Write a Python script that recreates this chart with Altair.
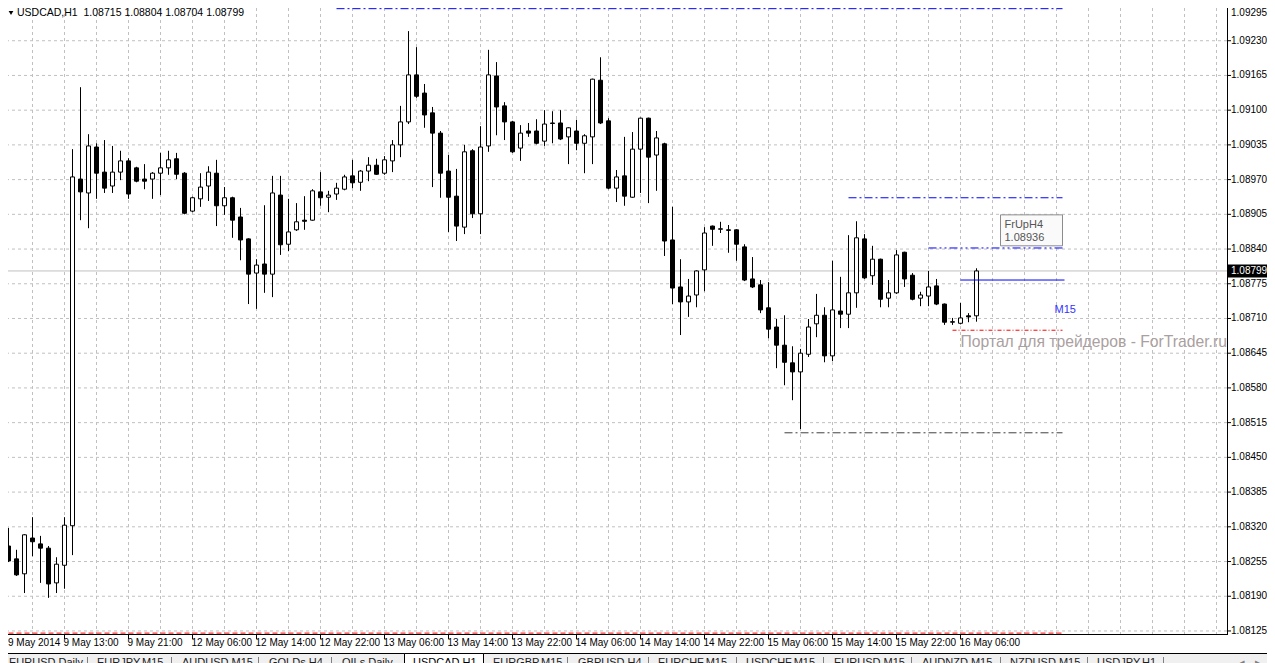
import altair as alt
import pandas as pd

FONT = "Liberation Sans"
symbol = "USDCAD,H1"

# ---- hourly OHLC bars (bar 0 = 9 May 2014 05:00, one bar per hour) ----
opens = [1.08295, 1.08284, 1.08260, 1.08232, 1.08299, 1.08288, 1.08280, 1.08215, 1.08248, 1.08322,
         1.08971, 1.08945, 1.09031, 1.08984, 1.08958, 1.08984, 1.09005, 1.08992, 1.08971, 1.08971,
         1.08982, 1.08992, 1.09009, 1.08982, 1.08911, 1.08934, 1.08958, 1.08982, 1.08921, 1.08936,
         1.08900, 1.08859, 1.08795, 1.08812, 1.08793, 1.08941, 1.08849, 1.08876, 1.08894, 1.08894,
         1.08947, 1.08937, 1.08943, 1.08952, 1.08977, 1.08965, 1.08986, 1.08997, 1.08982, 1.09005,
         1.09035, 1.09078, 1.09166, 1.09132, 1.09095, 1.09057, 1.08986, 1.08939, 1.08881, 1.09024,
         1.08906, 1.09033, 1.09164, 1.09108, 1.09078, 1.09029, 1.09061, 1.09061, 1.09042, 1.09076,
         1.09076, 1.09050, 1.09061, 1.09038, 1.09050, 1.09156, 1.09080, 1.08954, 1.08977, 1.08937,
         1.09027, 1.09085, 1.09016, 1.09037, 1.08857, 1.08769, 1.08741, 1.08754, 1.08801, 1.08883,
         1.08877, 1.08876, 1.08876, 1.08844, 1.08784, 1.08773, 1.08730, 1.08694, 1.08660, 1.08627,
         1.08610, 1.08643, 1.08700, 1.08716, 1.08640, 1.08724, 1.08718, 1.08758, 1.08859, 1.08790,
         1.08821, 1.08748, 1.08758, 1.08834, 1.08791, 1.08748, 1.08752, 1.08771, 1.08737, 1.08703,
         1.08701, 1.08715, 1.08715]
highs = [1.08305, 1.08318, 1.08277, 1.08306, 1.08338, 1.08303, 1.08284, 1.08263, 1.08338, 1.09027,
         1.09143, 1.09055, 1.09038, 1.09044, 1.09033, 1.09024, 1.09010, 1.08994, 1.08999, 1.08984,
         1.09020, 1.09024, 1.09020, 1.08984, 1.08938, 1.08982, 1.08995, 1.09007, 1.08956, 1.08938,
         1.08917, 1.08860, 1.08821, 1.08922, 1.08977, 1.08977, 1.08934, 1.08926, 1.08939, 1.08952,
         1.08984, 1.08949, 1.08964, 1.08979, 1.09007, 1.08988, 1.09012, 1.09009, 1.09014, 1.09044,
         1.09108, 1.09248, 1.09218, 1.09149, 1.09106, 1.09061, 1.09016, 1.08990, 1.09035, 1.09027,
         1.09070, 1.09213, 1.09190, 1.09115, 1.09080, 1.09072, 1.09076, 1.09083, 1.09100, 1.09098,
         1.09100, 1.09068, 1.09082, 1.09055, 1.09159, 1.09199, 1.09085, 1.08988, 1.09050, 1.09059,
         1.09086, 1.09086, 1.09061, 1.09039, 1.08919, 1.08821, 1.08784, 1.08800, 1.08881, 1.08884,
         1.08891, 1.08885, 1.08877, 1.08849, 1.08825, 1.08782, 1.08778, 1.08709, 1.08716, 1.08658,
         1.08653, 1.08709, 1.08756, 1.08731, 1.08818, 1.08788, 1.08866, 1.08892, 1.08868, 1.08846,
         1.08822, 1.08782, 1.08838, 1.08835, 1.08795, 1.08760, 1.08799, 1.08784, 1.08738, 1.08711,
         1.08739, 1.08720, 1.08804]
lows = [1.08267, 1.08254, 1.08228, 1.08196, 1.08265, 1.08215, 1.08187, 1.08196, 1.08204, 1.08267,
        1.08894, 1.08879, 1.08934, 1.08945, 1.08945, 1.08969, 1.08934, 1.08965, 1.08952, 1.08934,
        1.08941, 1.08979, 1.08971, 1.08905, 1.08909, 1.08919, 1.08930, 1.08883, 1.08904, 1.08861,
        1.08819, 1.08737, 1.08728, 1.08758, 1.08750, 1.08829, 1.08836, 1.08874, 1.08876, 1.08893,
        1.08921, 1.08909, 1.08932, 1.08950, 1.08954, 1.08949, 1.08967, 1.08979, 1.08979, 1.08984,
        1.09012, 1.09074, 1.09123, 1.09067, 1.08956, 1.08936, 1.08872, 1.08855, 1.08868, 1.08898,
        1.08868, 1.09022, 1.09053, 1.09044, 1.09020, 1.09005, 1.09050, 1.09036, 1.09033, 1.09038,
        1.09044, 1.08999, 1.09025, 1.08982, 1.08999, 1.09074, 1.08952, 1.08928, 1.08921, 1.08936,
        1.08945, 1.08926, 1.08949, 1.08827, 1.08737, 1.08679, 1.08713, 1.08731, 1.08761, 1.08846,
        1.08870, 1.08833, 1.08818, 1.08780, 1.08767, 1.08720, 1.08673, 1.08617, 1.08585, 1.08557,
        1.08503, 1.08638, 1.08675, 1.08628, 1.08630, 1.08692, 1.08692, 1.08730, 1.08784, 1.08773,
        1.08731, 1.08731, 1.08756, 1.08769, 1.08744, 1.08733, 1.08733, 1.08735, 1.08698, 1.08698,
        1.08699, 1.08703, 1.08704]
closes = [1.08280, 1.08256, 1.08230, 1.08305, 1.08292, 1.08280, 1.08213, 1.08250, 1.08323, 1.08975,
          1.08947, 1.09033, 1.08982, 1.08954, 1.08984, 1.09005, 1.08943, 1.08967, 1.08967, 1.08982,
          1.08992, 1.09007, 1.08980, 1.08907, 1.08936, 1.08956, 1.08984, 1.08921, 1.08936, 1.08894,
          1.08857, 1.08793, 1.08810, 1.08793, 1.08945, 1.08848, 1.08872, 1.08891, 1.08892, 1.08949,
          1.08936, 1.08941, 1.08954, 1.08975, 1.08964, 1.08986, 1.08997, 1.08980, 1.09007, 1.09035,
          1.09078, 1.09166, 1.09126, 1.09091, 1.09057, 1.08982, 1.08937, 1.08883, 1.09022, 1.08906,
          1.09031, 1.09166, 1.09106, 1.09078, 1.09022, 1.09057, 1.09057, 1.09038, 1.09074, 1.09075,
          1.09046, 1.09067, 1.09038, 1.09052, 1.09158, 1.09076, 1.08954, 1.08975, 1.08939, 1.09027,
          1.09085, 1.09012, 1.09048, 1.08855, 1.08767, 1.08741, 1.08752, 1.08799, 1.08870, 1.08877,
          1.08878, 1.08875, 1.08849, 1.08782, 1.08769, 1.08726, 1.08690, 1.08660, 1.08628, 1.08610,
          1.08645, 1.08694, 1.08716, 1.08640, 1.08726, 1.08718, 1.08758, 1.08861, 1.08786, 1.08821,
          1.08746, 1.08758, 1.08829, 1.08784, 1.08746, 1.08754, 1.08769, 1.08737, 1.08703, 1.08704,
          1.08711, 1.08713, 1.08799]

# time axis (bar index -> label)
first_label = "9 May 2014"
time_idx = [8, 16, 24, 32, 40, 48, 56, 64, 72, 80, 88, 96, 104, 112, 120]
time_labels = ["9 May 13:00", "9 May 21:00", "12 May 06:00", "12 May 14:00", "12 May 22:00",
               "13 May 06:00", "13 May 14:00", "13 May 22:00", "14 May 06:00", "14 May 14:00",
               "14 May 22:00", "15 May 06:00", "15 May 14:00", "15 May 22:00", "16 May 06:00"]

price_ticks = [1.08125, 1.08190, 1.08255, 1.08320, 1.08385, 1.08450, 1.08515, 1.08580, 1.08645,
               1.08710, 1.08775, 1.08840, 1.08905, 1.08970, 1.09035, 1.09100, 1.09165, 1.09230,
               1.09295]

# indicator levels: price, first bar, last bar
level_prices = [1.09290, 1.08936, 1.08842, 1.08782, 1.08688, 1.08496, 1.08121]
level_start = [42, 106, 116, 120, 119, 98, 0]
level_end = [132.75, 132.75, 132.75, 133.0, 132.75, 132.75, 132.75]
level_colors = ["#0000ff", "#0000ff", "#0000ff", "#0000ff", "#ff0000", "#404040", "#ff0000"]
level_dashes = [[8, 3, 2, 3], [8, 3, 2, 3], [8, 3, 2, 3, 2, 3], None, [4, 2, 1, 2], [8, 3, 2, 3], [5, 3]]

tooltip_name = "FrUpH4"
tooltip_price = 1.08936
m15_label = "M15"
watermark = "Портал для трейдеров - ForTrader.ru"

tabs = ["EURUSD,Daily", "EURJPY,M15", "AUDUSD,M15", "GOLDs,H4", "OILs,Daily", "USDCAD,H1",
        "EURGBP,M15", "GBPUSD,H4", "EURCHF,M15", "USDCHF,M15", "EURUSD,M15", "AUDNZD,M15",
        "NZDUSD,M15", "USDJPY,H1"]
active_tab = "USDCAD,H1"

# ---------------- layout ----------------
W, H = 1219, 627
RIGHT = 40
BOTTOM = 28
PX = 8.0
x_min = 1 - 0.5 / PX
x_max = x_min + W / PX
k = 0.00065 / 34.72
y_max = price_ticks[-1] - 2 * k
y_min = y_max - H * k

xs = alt.Scale(domain=[x_min, x_max], nice=False, zero=False)
ys = alt.Scale(domain=[y_min, y_max], nice=False, zero=False)


def X(f):
    return alt.X(f, scale=xs, axis=None)


def Y(f):
    return alt.Y(f, scale=ys, axis=None)


n = len(opens)
bars = pd.DataFrame({"i": list(range(n)), "o": opens, "h": highs, "l": lows, "c": closes})
ticks_df = pd.DataFrame({"p": price_ticks})
times_df = pd.DataFrame({"i": time_idx, "t": time_labels})
one = pd.DataFrame({"a": [0]})

layers = []

# grid
layers.append(alt.Chart(ticks_df).mark_rule(color="#c0c0c0", strokeDash=[3, 3], strokeWidth=1)
              .encode(y=Y("p:Q")))
layers.append(alt.Chart(pd.DataFrame({"g": list(range(4, 153, 4))})).mark_rule(
    color="#c0c0c0", strokeDash=[3, 3], strokeWidth=1).encode(x=X("g:Q")))

# current price line
last = pd.DataFrame({"p": [closes[-1]]})
layers.append(alt.Chart(last).mark_rule(color="#c0c0c0", strokeWidth=1).encode(y=Y("p:Q")))

# candles
layers.append(alt.Chart(bars).mark_rule(color="black", strokeWidth=1).encode(
    x=X("i:Q"), y=Y("l:Q"), y2="h:Q"))
layers.append(alt.Chart(bars).transform_calculate(
    x0="datum.i - 0.25", x1="datum.i + 0.25"
).mark_rect(stroke="black", strokeWidth=1).encode(
    x=X("x0:Q"), x2="x1:Q", y=Y("o:Q"), y2="c:Q",
    fill=alt.condition("datum.c > datum.o", alt.value("white"), alt.value("black")),
))

# indicator levels
for p, s, e, col, dash in zip(level_prices, level_start, level_end, level_colors, level_dashes):
    kw = dict(color=col, strokeWidth=1)
    if dash is not None:
        kw["strokeDash"] = dash
    layers.append(
        alt.Chart(pd.DataFrame({"p": [p], "s": [s], "e": [e]})).mark_rule(**kw).encode(
            x=X("s:Q"), x2="e:Q", y=Y("p:Q")))

# watermark and M15 label
layers.append(
    alt.Chart(pd.DataFrame({"t": [watermark], "i": [120], "p": [1.08666]})).mark_text(
        align="left", baseline="middle", font=FONT, fontSize=15.7, color="#aaa0a0"
    ).encode(x=X("i:Q"), y=Y("p:Q"), text="t:N"))
layers.append(
    alt.Chart(pd.DataFrame({"t": [m15_label], "i": [131.75], "p": [1.08726]})).mark_text(
        align="left", baseline="middle", font=FONT, fontSize=11, color="#3333ff"
    ).encode(x=X("i:Q"), y=Y("p:Q"), text="t:N"))

# tooltip box
tip = pd.DataFrame({"s": [125.0], "e": [132.75], "top": [1.08904], "bot": [1.08846]})
layers.append(alt.Chart(tip).mark_rect(color="#b8b8b8", xOffset=2, yOffset=2, opacity=0.7).encode(
    x=X("s:Q"), x2="e:Q", y=Y("top:Q"), y2="bot:Q"))
layers.append(alt.Chart(tip).mark_rect(fill="#fafafa", stroke="#8c8c8c", strokeWidth=1).encode(
    x=X("s:Q"), x2="e:Q", y=Y("top:Q"), y2="bot:Q"))
tip_text = pd.DataFrame({"t": [tooltip_name, "%.5f" % tooltip_price], "i": [125.5, 125.5],
                         "p": [1.08885, 1.08860]})
layers.append(alt.Chart(tip_text).mark_text(align="left", baseline="middle", font=FONT, fontSize=11,
                                            color="#555555").encode(
    x=X("i:Q"), y=Y("p:Q"), text="t:N"))

# ---- right price axis ----
layers.append(alt.Chart(one).mark_rule(color="black", strokeWidth=1).encode(
    x=alt.value(W + 0.5), y=alt.value(0), y2=alt.value(H)))
layers.append(alt.Chart(ticks_df).mark_rule(color="black", strokeWidth=1).encode(
    x=alt.value(W), x2=alt.value(W + 4), y=Y("p:Q")))
layers.append(alt.Chart(ticks_df).transform_calculate(
    ly="min(datum.p, %.8f)" % (y_max - 5 * k)
).mark_text(align="left", baseline="middle", font=FONT, fontSize=10, color="black").encode(
    x=alt.value(W + 4), y=Y("ly:Q"), text=alt.Text("p:Q", format=".5f")))

# current price label on the axis
layers.append(alt.Chart(last).transform_calculate(
    p0="datum.p - %.8f" % (6.5 * k), p1="datum.p + %.8f" % (6.5 * k)
).mark_rect(color="black").encode(
    x=alt.value(W + 1), x2=alt.value(W + RIGHT), y=Y("p0:Q"), y2="p1:Q"))
layers.append(alt.Chart(last).mark_text(align="left", baseline="middle", color="white", font=FONT,
                                        fontSize=10).encode(
    x=alt.value(W + 4), y=Y("p:Q"), text=alt.Text("p:Q", format=".5f")))

# ---- bottom time axis ----
layers.append(alt.Chart(one).mark_rule(color="black", strokeWidth=1).encode(
    x=alt.value(0), x2=alt.value(W + 1), y=alt.value(H - 0.5)))
layers.append(alt.Chart(times_df).mark_rule(color="black", strokeWidth=1).encode(
    x=X("i:Q"), y=alt.value(H), y2=alt.value(H + 4)))
layers.append(alt.Chart(times_df).mark_text(align="left", baseline="top", font=FONT, fontSize=10,
                                            color="black", dx=-1).encode(
    x=X("i:Q"), y=alt.value(H + 3), text="t:N"))
layers.append(alt.Chart(pd.DataFrame({"t": [first_label]})).mark_text(
    align="left", baseline="top", font=FONT, fontSize=10, color="black"
).encode(x=alt.value(0), y=alt.value(H + 3), text="t:N"))

# header
hdr = "%s\u00a0\u00a0%.5f %.5f %.5f %.5f" % (symbol, opens[-1], highs[-1], lows[-1], closes[-1])
layers.append(alt.Chart(pd.DataFrame({"t": [hdr]})).mark_text(
    align="left", baseline="middle", font=FONT, fontSize=10.5, color="black"
).encode(x=alt.value(9), y=alt.value(5), text="t:N"))
layers.append(alt.Chart(one).mark_point(
    shape="triangle-down", filled=True, size=22, color="black", opacity=1
).encode(x=alt.value(3), y=alt.value(5)))

# ---- terminal tab strip (bottom, partly outside the window) ----
TOTAL_W = W + RIGHT
TAB_TOP = H + 18
layers.append(alt.Chart(one).mark_rect(fill="#f0f0f0").encode(
    x=alt.value(0), x2=alt.value(TOTAL_W), y=alt.value(TAB_TOP), y2=alt.value(TAB_TOP + 20)))
layers.append(alt.Chart(one).mark_rule(color="black", strokeWidth=1).encode(
    x=alt.value(0), x2=alt.value(TOTAL_W), y=alt.value(TAB_TOP + 0.5)))
layers.append(alt.Chart(one).mark_rect(fill="white", stroke="black", strokeWidth=1).encode(
    x=alt.value(396.5), x2=alt.value(475.5), y=alt.value(TAB_TOP + 0.5), y2=alt.value(TAB_TOP + 22)))
tab_x = [1, 89, 174, 261, 334, 405, 485, 570, 650, 738, 826, 914, 1002, 1089]
sep_x = [79, 163, 250, 323, 559, 640, 728, 815, 903, 992, 1079, 1155]
for sx in sep_x:
    layers.append(alt.Chart(one).mark_rule(color="#808080").encode(
        x=alt.value(sx + 0.5), y=alt.value(TAB_TOP + 4), y2=alt.value(TAB_TOP + 20)))
for name, tx in zip(tabs, tab_x):
    layers.append(alt.Chart(pd.DataFrame({"t": [name]})).mark_text(
        align="left", baseline="top", font=FONT, fontSize=11,
        color="black" if name == active_tab else "#202020"
    ).encode(x=alt.value(tx), y=alt.value(TAB_TOP + 4), text="t:N"))
layers.append(alt.Chart(pd.DataFrame({"t": ["\u25c2", "\u25b8"], "x": [1231, 1247]})).mark_text(
    align="left", baseline="top", font=FONT, fontSize=11, color="#808080"
).encode(x=alt.X("x:Q", scale=None, axis=None), y=alt.value(TAB_TOP + 4), text="t:N"))

chart = alt.layer(*layers).properties(
    width=W, height=H,
    autosize=alt.AutoSizeParams(type="none"),
    padding={"left": 0, "top": 0, "right": RIGHT, "bottom": BOTTOM},
    background="white",
).configure_view(stroke=None)

chart.save("out.html", embed_options={"renderer": "svg", "actions": False})
